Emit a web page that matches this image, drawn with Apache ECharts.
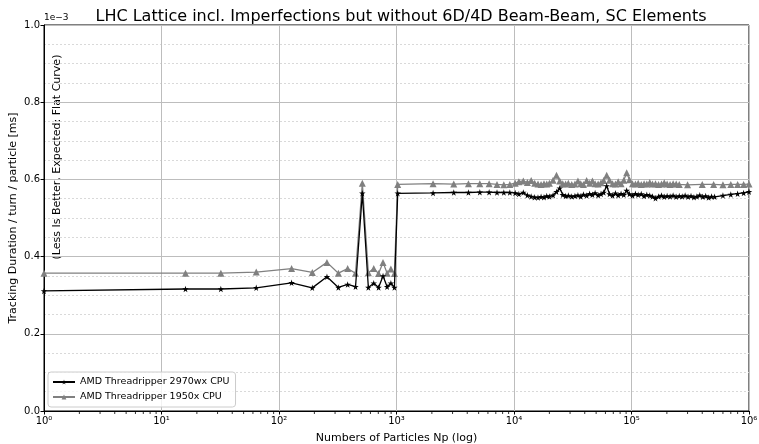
<!DOCTYPE html>
<html>
<head>
<meta charset="utf-8">
<script src="https://cdn.jsdelivr.net/npm/echarts@6/dist/echarts.min.js"></script>
<style>
  html, body { margin: 0; padding: 0; background: #fff; }
  #chart { width: 759px; height: 444px; }
</style>
</head>
<body>
<div id="chart"></div>
<script>
// number of particles (x) and duration per turn per particle (x 1e-3 ms)
const npBlack = [1, 16, 32, 64, 128, 192, 256, 320, 384, 448, 512, 576, 640, 704, 768, 832, 896, 960,
  1024, 2048, 3072, 4096, 5120, 6144, 7168, 8192, 9216, 10240,
  11000, 12000, 13000, 14000, 15000, 16000, 17000, 18000, 19000, 20000,
  21500, 23000, 24500, 26000, 27500, 29000, 31000, 33000, 35000, 37000, 39000,
  41500, 44000, 46500, 49000, 52000, 55000, 58000, 61500, 65000, 69000, 73000, 77000, 81500, 86000, 91000, 96000,
  102000, 108000, 114000, 121000, 128000, 135000, 143000, 151000, 160000, 170000, 180000, 190000,
  201000, 213000, 226000, 240000, 255000,
  270000, 286000, 303000, 321000, 340000, 360000, 381000, 404000, 428000, 453000, 480000, 510000,
  600000, 700000, 800000, 900000, 1000000];
const timeBlack = [0.311, 0.316, 0.316, 0.319, 0.332, 0.319, 0.348, 0.320, 0.328, 0.322, 0.564, 0.320, 0.331, 0.320, 0.350, 0.322, 0.331, 0.320,
  0.564, 0.565, 0.566, 0.566, 0.567, 0.567, 0.566, 0.566, 0.566, 0.565,
  0.562, 0.566, 0.559, 0.556, 0.554, 0.553, 0.555, 0.554, 0.557, 0.556,
  0.559, 0.568, 0.577, 0.560, 0.557, 0.558, 0.556, 0.557, 0.559, 0.556, 0.561,
  0.558, 0.563, 0.560, 0.565, 0.559, 0.562, 0.566, 0.583, 0.562, 0.558, 0.564, 0.559, 0.563, 0.560, 0.571, 0.562,
  0.558, 0.563, 0.560, 0.562, 0.557, 0.560, 0.558, 0.556, 0.551, 0.556, 0.558, 0.555,
  0.557, 0.556, 0.558, 0.555, 0.557,
  0.556, 0.558, 0.555, 0.557, 0.554, 0.556, 0.559, 0.555, 0.557, 0.553, 0.556, 0.555,
  0.558, 0.561, 0.563, 0.565, 0.568];

const npGray = [1, 16, 32, 64, 128, 192, 256, 320, 384, 448, 512, 576, 640, 704, 768, 832, 896, 960,
  1024, 2048, 3072, 4096, 5120, 6144, 7168, 8192, 9216, 10240,
  11000, 12000, 13000, 14000, 15000, 16000, 17000, 18000, 19000, 20000,
  21500, 23000, 24500, 26000, 27500, 29000, 31000, 33000, 35000, 37000, 39000,
  41500, 44000, 46500, 49000, 52000, 55000, 58000, 61500, 65000, 69000, 73000, 77000, 81500, 86000, 91000, 96000,
  102000, 108000, 114000, 121000, 128000, 135000, 143000, 151000, 160000, 170000, 180000, 190000,
  201000, 213000, 226000, 240000, 255000,
  300000, 400000, 500000, 600000, 700000, 800000, 900000, 1000000];
const timeGray = [0.357, 0.357, 0.357, 0.360, 0.369, 0.359, 0.385, 0.357, 0.369, 0.357, 0.590, 0.358, 0.369, 0.356, 0.385, 0.357, 0.368, 0.356,
  0.587, 0.589, 0.588, 0.589, 0.589, 0.589, 0.587, 0.586, 0.587, 0.590,
  0.594, 0.596, 0.592, 0.597, 0.590, 0.588, 0.587, 0.589, 0.588, 0.590,
  0.598, 0.611, 0.596, 0.589, 0.588, 0.590, 0.587, 0.588, 0.596, 0.589, 0.587,
  0.597, 0.590, 0.596, 0.589, 0.588, 0.591, 0.597, 0.611, 0.598, 0.589, 0.588, 0.594, 0.589, 0.598, 0.617, 0.599,
  0.589, 0.588, 0.590, 0.587, 0.589, 0.588, 0.592, 0.588, 0.589, 0.587, 0.588, 0.591,
  0.588, 0.587, 0.589, 0.588, 0.587,
  0.586, 0.587, 0.587, 0.586, 0.587, 0.587, 0.587, 0.588];

const xTickValues = [1, 10, 100, 1000, 10000, 100000, 1000000];
const xTickLabels = ['10\u2070', '10\u00b9', '10\u00b2', '10\u00b3', '10\u2074', '10\u2075', '10\u2076'];
const xMinorTicks = [2, 3, 4, 5, 6, 7, 8, 9, 20, 30, 40, 50, 60, 70, 80, 90,
  200, 300, 400, 500, 600, 700, 800, 900, 2000, 3000, 4000, 5000, 6000, 7000, 8000, 9000,
  20000, 30000, 40000, 50000, 60000, 70000, 80000, 90000, 200000, 300000, 400000, 500000, 600000, 700000, 800000, 900000];

const seriesNames = ['AMD Threadripper 2970wx CPU', 'AMD Threadripper 1950x CPU'];

const starPath = 'path://M50,0 L61,35 L98,35 L68,57 L79,91 L50,70 L21,91 L32,57 L2,35 L39,35 Z';
const font = 'DejaVu Sans';

const chart = echarts.init(document.getElementById('chart'));
chart.setOption({
  animation: false,
  textStyle: { fontFamily: font },
  title: {
    text: 'LHC Lattice incl. Imperfections but without 6D/4D Beam-Beam, SC Elements',
    left: 396, textAlign: 'center', top: 4,
    textStyle: { fontFamily: font, fontSize: 16, fontWeight: 'normal', color: '#000' }
  },
  grid: {
    left: 44, right: 10, top: 25, bottom: 33,
    outerBoundsMode: 'none', containLabel: false,
    show: true, borderColor: '#000', borderWidth: 1
  },
  legend: {
    orient: 'vertical', left: 48, top: 372,
    itemWidth: 22, itemHeight: 6, itemGap: 5,
    padding: [5, 6, 5, 4],
    backgroundColor: 'rgba(255,255,255,0.8)',
    borderColor: '#cccccc', borderWidth: 1, borderRadius: 3,
    textStyle: { fontFamily: font, fontSize: 9.5, color: '#000' },
    data: seriesNames
  },
  xAxis: {
    type: 'log', logBase: 10, min: 1, max: 1000000,
    name: 'Numbers of Particles Np (log)', nameLocation: 'middle', nameGap: 22,
    nameMoveOverlap: false,
    nameTextStyle: { fontFamily: font, fontSize: 11, color: '#000' },
    axisLine: { lineStyle: { color: '#000', width: 1 } },
    axisTick: { show: true, length: 3.5, lineStyle: { color: '#000' }, customValues: xTickValues },
    axisLabel: {
      fontFamily: font, fontSize: 10, color: '#000', margin: 5,
      customValues: xTickValues,
      formatter: v => xTickLabels[xTickValues.indexOf(v)] || ''
    },
    splitLine: { show: true, lineStyle: { color: '#bdbdbd', width: 1 } }
  },
  yAxis: {
    type: 'value', min: 0, max: 1.0, interval: 0.2,
    name: 'Tracking Duration / turn / particle [ms]', nameLocation: 'middle', nameGap: 25,
    nameMoveOverlap: false,
    nameTextStyle: { fontFamily: font, fontSize: 11, color: '#000' },
    axisLine: { show: true, lineStyle: { color: '#000', width: 1 } },
    axisTick: { show: true, length: 3.5, lineStyle: { color: '#000' } },
    axisLabel: { fontFamily: font, fontSize: 10, color: '#000', margin: 4, formatter: v => v.toFixed(1) },
    splitLine: { show: true, lineStyle: { color: '#bdbdbd', width: 1 } },
    minorTick: { show: false, splitNumber: 4 },
    minorSplitLine: { show: true, lineStyle: { color: '#d0d0d0', width: 0.8, type: [2, 2] } }
  },
  graphic: [{
    type: 'text', left: 44, top: 13,
    style: { text: '1e\u22123', fontFamily: font, fontSize: 9, fill: '#000' }
  }, {
    type: 'text', x: 57, y: 157, rotation: Math.PI / 2,
    style: { text: '(Less Is Better, Expected: Flat Curve)', fontFamily: font, fontSize: 11,
      fill: '#000', align: 'center', verticalAlign: 'middle' }
  }],
  series: [{
    name: seriesNames[0], type: 'line',
    data: npBlack.map((x, i) => [x, timeBlack[i]]),
    symbol: starPath, symbolSize: 6.5,
    lineStyle: { color: '#000', width: 1.3 },
    itemStyle: { color: '#000' },
    z: 3
  }, {
    name: seriesNames[1], type: 'line',
    data: npGray.map((x, i) => [x, timeGray[i]]),
    symbol: 'triangle', symbolSize: 7,
    lineStyle: { color: '#808080', width: 1.3 },
    itemStyle: { color: '#808080' },
    z: 2
  }, {
    // minor log ticks below the x axis line
    name: 'minorTicks', type: 'scatter', silent: true, clip: false,
    data: xMinorTicks.map(v => [v, 0]),
    symbol: 'rect', symbolSize: [1, 2.5], symbolOffset: [0, 1.8],
    itemStyle: { color: '#000' }, z: 5
  }]
});
</script>
</body>
</html>
